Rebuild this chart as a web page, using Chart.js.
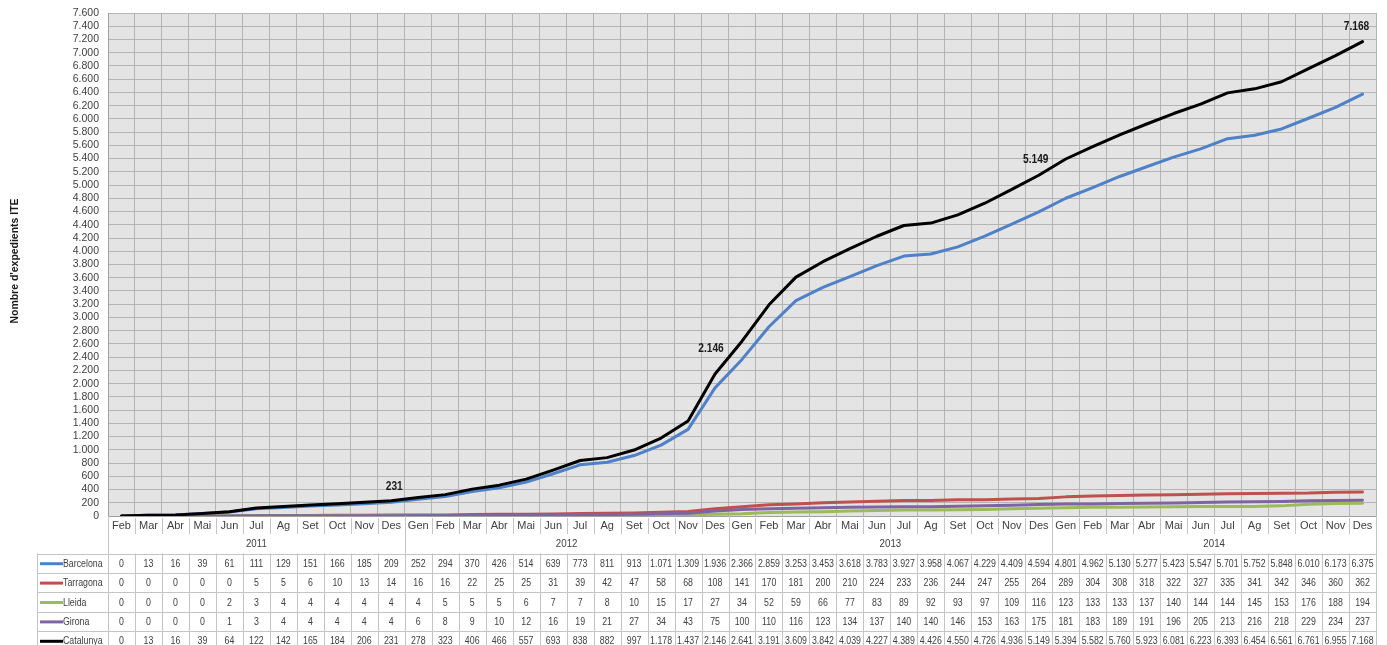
<!DOCTYPE html>
<html>
<head>
<meta charset="utf-8">
<script src="https://cdn.jsdelivr.net/npm/chart.js@4.4.1/dist/chart.umd.min.js"></script>
<style>
  html, body { margin: 0; padding: 0; background: #ffffff; }
  #wrap { width: 1387px; height: 645px; }
</style>
</head>
<body>
<div id="wrap"><canvas id="c" width="1387" height="645"></canvas></div>
<script>
const months = ["Feb","Mar","Abr","Mai","Jun","Jul","Ag","Set","Oct","Nov","Des",
  "Gen","Feb","Mar","Abr","Mai","Jun","Jul","Ag","Set","Oct","Nov","Des",
  "Gen","Feb","Mar","Abr","Mai","Jun","Jul","Ag","Set","Oct","Nov","Des",
  "Gen","Feb","Mar","Abr","Mai","Jun","Jul","Ag","Set","Oct","Nov","Des"];
const years = ["2011","2012","2013","2014"];
const yearStarts = [0, 11, 23, 35, 47];

const barcelona = [0,13,16,39,61,111,129,151,166,185,209,
  252,294,370,426,514,639,773,811,913,1071,1309,1936,
  2366,2859,3253,3453,3618,3783,3927,3958,4067,4229,4409,4594,
  4801,4962,5130,5277,5423,5547,5701,5752,5848,6010,6173,6375];
const tarragona = [0,0,0,0,0,5,5,6,10,13,14,
  16,16,22,25,25,31,39,42,47,58,68,108,
  141,170,181,200,210,224,233,236,244,247,255,264,
  289,304,308,318,322,327,335,341,342,346,360,362];
const lleida = [0,0,0,0,2,3,4,4,4,4,4,
  4,5,5,5,6,7,7,8,10,15,17,27,
  34,52,59,66,77,83,89,92,93,97,109,116,
  123,133,133,137,140,144,144,145,153,176,188,194];
const girona = [0,0,0,0,1,3,4,4,4,4,4,
  6,8,9,10,12,16,19,21,27,34,43,75,
  100,110,116,123,134,137,140,140,146,153,163,175,
  181,183,189,191,196,205,213,216,218,229,234,237];
const catalunya = [0,13,16,39,64,122,142,165,184,206,231,
  278,323,406,466,557,693,838,882,997,1178,1437,2146,
  2641,3191,3609,3842,4039,4227,4389,4426,4550,4726,4936,5149,
  5394,5582,5760,5923,6081,6223,6393,6454,6561,6761,6955,7168];

const seriesNames = ["Barcelona","Tarragona","Lleida","Girona","Catalunya"];
const seriesColors = ["#4f81c6","#c0504d","#9bbb59","#8064a2","#000000"];
const seriesValues = [barcelona, tarragona, lleida, girona, catalunya];

// indices of Catalunya points that carry a value label
const labelledPoints = [10, 22, 34, 46];

const yTitle = "Nombre d'expedients ITE";
const FONT = "'Liberation Sans',Arial,sans-serif";

function fmt(v) {
  return String(v).replace(/\B(?=(\d{3})+(?!\d))/g, ".");
}

// draw text horizontally condensed (Calibri-like width)
function narrowText(ctx, txt, x, y, sx) {
  ctx.save();
  ctx.translate(x, y);
  ctx.scale(sx, 1);
  ctx.fillText(txt, 0, 0);
  ctx.restore();
}

const bgPlugin = {
  id: 'bg',
  beforeDraw(chart) {
    const a = chart.chartArea, ctx = chart.ctx;
    ctx.save();
    ctx.fillStyle = '#e4e4e4';
    ctx.fillRect(a.left, a.top, a.right - a.left, a.bottom - a.top);
    ctx.restore();
  }
};

const tablePlugin = {
  id: 'table',
  afterDraw(chart) {
    const ctx = chart.ctx, a = chart.chartArea;
    const N = months.length;
    const w = (a.right - a.left) / N;
    const bx = i => a.left + i * w;
    const tableTop = 553.5, rowH = 19.4, colLeft = 37;
    const bottom = a.bottom;
    ctx.save();
    ctx.strokeStyle = '#c4c4c4';
    ctx.lineWidth = 1;
    // month separators
    ctx.beginPath();
    for (let i = 1; i < N; i++) {
      if (yearStarts.includes(i)) continue;
      const x = Math.round(bx(i)) + 0.5;
      ctx.moveTo(x, bottom + 2); ctx.lineTo(x, bottom + 18);
    }
    // year separators
    yearStarts.forEach(i => {
      const x = Math.round(bx(i)) + 0.5;
      ctx.moveTo(x, bottom); ctx.lineTo(x, tableTop);
    });
    ctx.stroke();
    // year labels
    ctx.fillStyle = '#404040';
    ctx.font = "11px " + FONT;
    ctx.textAlign = 'center';
    ctx.textBaseline = 'middle';
    years.forEach((y, k) => {
      const cx = (bx(yearStarts[k]) + bx(yearStarts[k + 1])) / 2;
      narrowText(ctx, y, cx, 544, 0.88);
    });
    // table grid
    ctx.beginPath();
    for (let r = 0; r <= seriesNames.length; r++) {
      const y = Math.round(tableTop + r * rowH) + 0.5;
      ctx.moveTo(colLeft, y); ctx.lineTo(a.right, y);
    }
    const tBottom = tableTop + seriesNames.length * rowH;
    ctx.moveTo(colLeft + 0.5, tableTop); ctx.lineTo(colLeft + 0.5, tBottom);
    for (let i = 0; i <= N; i++) {
      const x = Math.round(bx(i)) + 0.5;
      ctx.moveTo(x, tableTop); ctx.lineTo(x, tBottom);
    }
    ctx.stroke();
    // rows
    seriesNames.forEach((name, r) => {
      const cy = tableTop + r * rowH + rowH / 2 + 0.5;
      ctx.strokeStyle = seriesColors[r];
      ctx.lineWidth = 3;
      ctx.beginPath();
      ctx.moveTo(40, cy); ctx.lineTo(63, cy);
      ctx.stroke();
      ctx.fillStyle = '#404040';
      ctx.font = "11px " + FONT;
      ctx.textAlign = 'left';
      narrowText(ctx, name, 63, cy, 0.8);
      ctx.textAlign = 'center';
      seriesValues[r].forEach((v, i) => {
        narrowText(ctx, fmt(v), bx(i) + w / 2, cy, 0.8);
      });
    });
    // y axis title
    ctx.save();
    ctx.translate(15, 261);
    ctx.rotate(-Math.PI / 2);
    ctx.fillStyle = '#1a1a1a';
    ctx.font = "bold 11px " + FONT;
    ctx.textAlign = 'center';
    ctx.textBaseline = 'middle';
    narrowText(ctx, yTitle, 0, 0, 0.95);
    ctx.restore();
    // data labels on Catalunya
    const meta = chart.getDatasetMeta(4);
    const offsets = [[3, -14], [-4, -25], [-3, -16], [-6, -15]];
    ctx.fillStyle = '#1a1a1a';
    ctx.font = "bold 12px " + FONT;
    ctx.textAlign = 'center';
    ctx.textBaseline = 'middle';
    labelledPoints.forEach((idx, k) => {
      const p = meta.data[idx];
      narrowText(ctx, fmt(catalunya[idx]), p.x + offsets[k][0], p.y + offsets[k][1], 0.85);
    });
    ctx.restore();
  }
};

const datasets = seriesNames.map((name, k) => ({
  label: name,
  data: seriesValues[k],
  borderColor: seriesColors[k],
  backgroundColor: seriesColors[k],
  borderWidth: 3,
  pointRadius: 0,
  pointHoverRadius: 0,
  tension: 0,
  fill: false,
  borderCapStyle: 'round',
  borderJoinStyle: 'round',
  order: seriesNames.length - 1 - k
}));

new Chart(document.getElementById('c'), {
  type: 'line',
  data: { labels: months, datasets },
  options: {
    responsive: false,
    animation: false,
    devicePixelRatio: 1,
    layout: { padding: { top: 13, right: 11, bottom: 0, left: 0 } },
    plugins: { legend: { display: false }, tooltip: { enabled: false } },
    scales: {
      x: {
        type: 'category',
        offset: true,
        grid: { offset: true, color: '#b4b4b4', drawTicks: false },
        border: { color: '#a0a0a0' },
        ticks: { autoSkip: false, maxRotation: 0, minRotation: 0, padding: 3,
                 color: '#404040', font: { size: 11, family: FONT } },
        afterFit(scale) { scale.height = 129; scale.paddingLeft = 0; scale.paddingRight = 0; }
      },
      y: {
        min: 0, max: 7600,
        ticks: { stepSize: 200, autoSkip: false, padding: 9, color: '#404040',
                 font: { size: 10.5, family: FONT },
                 callback: v => fmt(v) },
        grid: { color: '#b4b4b4', drawTicks: false },
        border: { color: '#a0a0a0' },
        afterFit(scale) { scale.width = 108; scale.paddingTop = 0; scale.paddingBottom = 0; }
      }
    }
  },
  plugins: [bgPlugin, tablePlugin]
});
</script>
</body>
</html>
